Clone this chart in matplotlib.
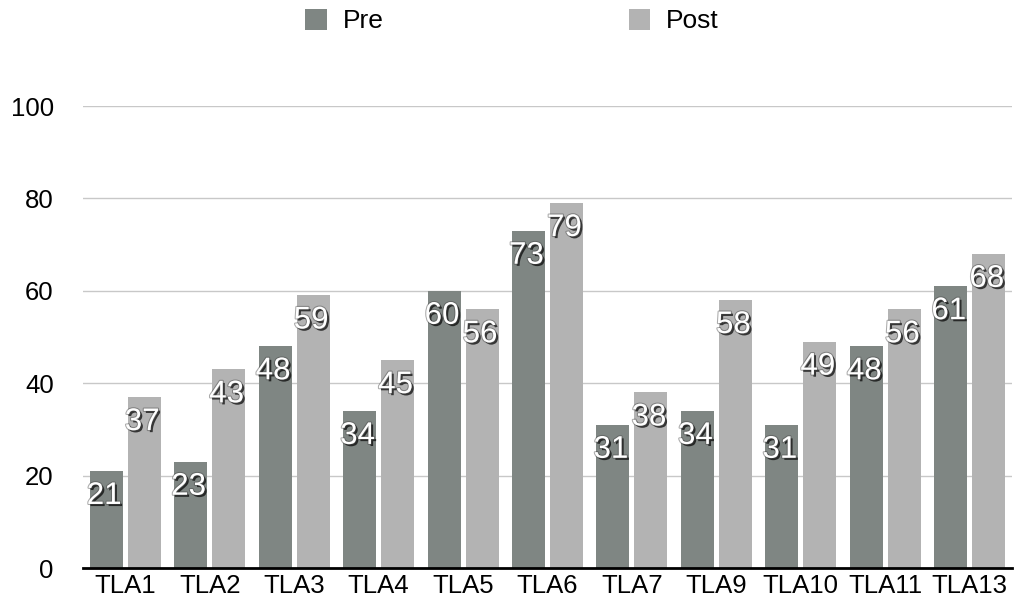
import matplotlib
matplotlib.use("Agg")
import matplotlib.pyplot as plt
import matplotlib.patheffects as pe
import numpy as np

categories = ["TLA1", "TLA2", "TLA3", "TLA4", "TLA5", "TLA6", "TLA7", "TLA9", "TLA10", "TLA11", "TLA13"]
pre = [21, 23, 48, 34, 60, 73, 31, 34, 31, 48, 61]
post = [37, 43, 59, 45, 56, 79, 38, 58, 49, 56, 68]
yticks = [0, 20, 40, 60, 80, 100]

pre_color = "#7f8683"
post_color = "#b3b3b3"

plt.rcParams["font.family"] = ["Liberation Sans", "DejaVu Sans"]

fig = plt.figure(figsize=(10.16, 6.11), dpi=100)
ax = fig.add_axes([83 / 1016, 1 - 568 / 611, (1012 - 83) / 1016, (568 - 106) / 611])

x = np.arange(len(categories))
width = 0.39
offset = 0.225
b1 = ax.bar(x - offset, pre, width, color=pre_color, label="Pre", zorder=2)
b2 = ax.bar(x + offset, post, width, color=post_color, label="Post", zorder=2)

ax.set_xlim(-0.5, len(categories) - 0.5)
ax.set_ylim(0, 100)
ax.set_yticks(yticks)
ax.set_xticks(x)
ax.set_xticklabels(categories)
ax.tick_params(axis="both", length=0, labelsize=18.5, colors="black")
ax.tick_params(axis="y", pad=21)
ax.tick_params(axis="x", pad=4)

for y in yticks[1:]:
    ax.axhline(y, color="#c8c8c8", lw=1, zorder=1)

for s in ["top", "right", "left"]:
    ax.spines[s].set_visible(False)
ax.spines["bottom"].set_linewidth(2)
ax.spines["bottom"].set_color("black")
ax.spines["bottom"].set_zorder(3)

effects = [
    pe.SimplePatchShadow(offset=(1.5, -1.5), shadow_rgbFace="black", alpha=0.7),
    pe.Stroke(linewidth=1.5, foreground="#444444", alpha=0.45),
    pe.Normal(),
]

for bars, vals in ((b1, pre), (b2, post)):
    for rect, v in zip(bars, vals):
        ax.annotate(
            str(v),
            xy=(rect.get_x() + rect.get_width() / 2, v),
            xytext=(-2, -25),
            textcoords="offset pixels",
            ha="center",
            va="center",
            color="white",
            fontsize=22.5,
            zorder=4,
            path_effects=effects,
        )

leg = ax.legend(
    loc="upper center",
    bbox_to_anchor=(0.5 + 0.004, (611 + 15) / 611),
    bbox_transform=fig.transFigure,
    ncol=2,
    frameon=False,
    fontsize=19,
    handlelength=0.82,
    handleheight=0.85,
    handletextpad=0.6,
    columnspacing=9.3,
)

fig.savefig("out.png", dpi=100)
